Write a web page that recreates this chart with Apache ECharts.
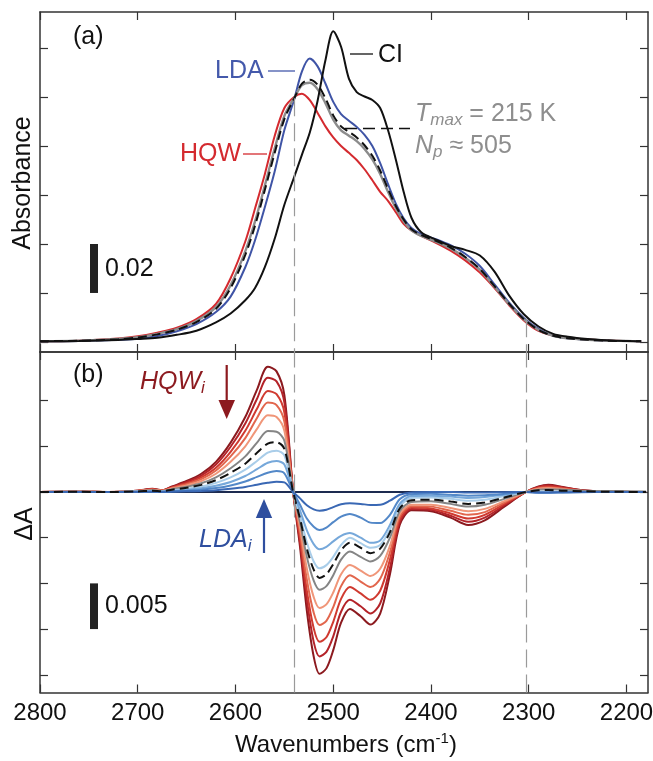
<!DOCTYPE html>
<html>
<head>
<meta charset="utf-8">
<script src="https://cdn.jsdelivr.net/npm/echarts@6/dist/echarts.min.js"></script>
<style>
  html, body { margin: 0; padding: 0; background: #fff; }
  #chart { width: 653px; height: 761px; }
</style>
</head>
<body>
<div id="chart"></div>
<script>
// ---------- panel (a): absorbance, values in units of 1e-3 ----------
const wnA = [2800, 2760, 2720, 2700, 2680, 2660, 2640, 2620, 2605, 2590, 2580, 2570, 2560, 2550, 2540,
  2532, 2524, 2516, 2508, 2500, 2492, 2484, 2476, 2468, 2460, 2452, 2444, 2436, 2428, 2420,
  2410, 2395, 2380, 2365, 2350, 2335, 2320, 2305, 2290, 2275, 2260, 2240, 2220, 2200, 2185];
const absCI = [0.3, 0.4, 0.8, 1.2, 1.7, 2.9, 4.6, 8.0, 11.6, 17.0, 22.0, 30.5, 42.0, 56.0, 67.3,
  76.5, 85.5, 98.5, 115.0, 126.8, 120.5, 107.5, 102.0, 100.2, 98.8, 95.5, 86.5, 74.5, 61.3, 50.7,
  44.8, 41.8, 39.2, 37.6, 35.3, 28.7, 18.9, 11.3, 6.3, 3.3, 2.1, 1.2, 0.7, 0.4, 0.3];
const absLDA = [0.3, 0.4, 0.9, 1.3, 2.4, 4.4, 7.3, 12.2, 18.5, 30.5, 41.5, 55.0, 69.5, 86.5, 99.0,
  110.5, 115.7, 112.5, 105.5, 98.0, 93.0, 90.3, 87.8, 84.5, 80.0, 73.0, 64.5, 56.5, 50.5, 46.5,
  44.0, 42.0, 39.5, 36.0, 31.0, 23.5, 16.0, 9.8, 5.3, 2.5, 1.5, 0.9, 0.5, 0.4, 0.3];
const absHQW = [0.3, 0.5, 1.4, 2.3, 3.8, 5.8, 9.3, 15.5, 26.0, 41.0, 54.5, 68.5, 84.0, 95.5, 100.0,
  101.3, 98.7, 93.5, 88.0, 83.5, 80.0, 77.2, 74.3, 70.5, 66.0, 61.3, 57.6, 53.0, 48.2, 45.5,
  43.3, 40.5, 37.3, 33.3, 28.3, 22.0, 15.0, 8.8, 4.5, 2.6, 1.6, 1.0, 0.6, 0.4, 0.3];
const absTmaxGray = [0.3, 0.5, 1.2, 1.9, 3.3, 5.2, 8.5, 14.2, 23.2, 37.0, 49.2, 63.8, 78.8, 92.3, 99.6,
  104.8, 105.8, 103.2, 97.5, 90.8, 86.4, 84.2, 82.0, 78.8, 74.5, 68.6, 61.3, 54.6, 49.4, 45.6,
  43.3, 41.0, 38.2, 34.4, 29.5, 22.5, 15.4, 9.2, 4.9, 2.5, 1.5, 0.9, 0.5, 0.4, 0.3];
const absTmax = [0.3, 0.5, 1.1, 1.8, 3.1, 5.0, 8.1, 13.5, 22.0, 35.5, 47.5, 62.0, 77.0, 91.0, 99.4,
  105.5, 107.0, 105.0, 99.5, 92.5, 88.0, 85.8, 83.5, 80.3, 76.0, 70.0, 62.5, 55.5, 50.0, 46.0,
  43.6, 41.3, 38.5, 34.7, 29.8, 22.8, 15.6, 9.3, 4.9, 2.5, 1.5, 0.9, 0.5, 0.4, 0.3];

// ---------- panel (b): difference spectra, values in units of 1e-3 ----------
const wnB = [2800, 2760, 2730, 2700, 2685, 2675, 2665, 2650, 2635, 2620, 2605, 2590, 2578, 2567, 2558,
  2550, 2541, 2534, 2527, 2520, 2514, 2507, 2500, 2492, 2483, 2472, 2462, 2452, 2442, 2432,
  2420, 2400, 2380, 2362, 2345, 2325, 2303, 2290, 2280, 2265, 2245, 2220, 2180];
const dHQW5 = [0, 0.05, 0, 0.15, 0.35, 0.2, 0.6, 1.2, 2.0, 3.3, 5.4, 8.2, 11.2, 13.7, 13.2,
  10.6, 0, -6.0, -13.0, -18.0, -19.9, -19.3, -17.3, -14.3, -12.8, -13.6, -14.5, -13.3, -9.0, -3.6,
  -2.0, -2.1, -2.8, -3.6, -3.1, -1.6, 0, 0.6, 0.8, 0.55, 0.2, 0.05, 0];
const dHQW4 = [0, 0.05, 0, 0.14, 0.32, 0.18, 0.55, 1.1, 1.8, 3.0, 4.95, 7.5, 10.2, 12.5, 12.1,
  9.8, 0, -5.5, -11.8, -16.4, -18.0, -17.5, -15.8, -13.1, -11.8, -12.5, -13.3, -12.2, -8.3, -3.3,
  -1.85, -1.95, -2.6, -3.25, -2.8, -1.45, 0, 0.55, 0.7, 0.5, 0.18, 0.05, 0];
const dHQW3 = [0, 0.05, 0, 0.13, 0.3, 0.16, 0.5, 0.95, 1.6, 2.65, 4.4, 6.7, 9.1, 11.05, 10.7,
  8.7, 0, -5.0, -10.8, -14.9, -16.4, -15.9, -14.2, -11.7, -10.4, -11.1, -11.8, -10.8, -7.4, -3.0,
  -1.7, -1.8, -2.35, -2.9, -2.5, -1.3, 0, 0.5, 0.6, 0.42, 0.15, 0.04, 0];
const dHQW2 = [0, 0.04, 0, 0.12, 0.27, 0.15, 0.45, 0.85, 1.4, 2.35, 3.9, 5.9, 8.1, 9.8, 9.5,
  7.7, 0, -4.4, -9.6, -13.2, -14.55, -14.1, -12.6, -10.3, -9.1, -9.8, -10.4, -9.5, -6.6, -2.7,
  -1.55, -1.6, -2.05, -2.5, -2.2, -1.15, 0, 0.42, 0.5, 0.35, 0.12, 0.03, 0];
const dHQW1 = [0, 0.03, 0, 0.1, 0.23, 0.13, 0.38, 0.72, 1.2, 2.0, 3.3, 5.0, 6.9, 8.4, 8.2,
  6.7, 0, -3.9, -8.4, -11.5, -12.7, -12.3, -11.0, -9.0, -8.0, -8.6, -9.2, -8.4, -5.9, -2.4,
  -1.4, -1.4, -1.75, -2.1, -1.85, -1.0, 0, 0.35, 0.45, 0.3, 0.1, 0.03, 0];
const dGray = [0, 0.03, 0, 0.08, 0.18, 0.1, 0.3, 0.58, 0.95, 1.6, 2.6, 3.9, 5.4, 6.67, 6.6,
  5.6, 0, -3.3, -7.1, -9.7, -10.7, -10.3, -9.1, -7.4, -6.5, -7.1, -7.6, -7.0, -5.0, -2.1,
  -1.1, -1.0, -1.3, -1.6, -1.4, -0.75, 0, 0.25, 0.3, 0.25, 0.15, 0.1, 0.05];
const dTmax = [0, 0.02, 0, 0.06, 0.14, 0.08, 0.25, 0.47, 0.78, 1.3, 2.1, 3.1, 4.3, 5.3, 5.44,
  4.7, 0, -2.9, -6.2, -8.5, -9.4, -9.0, -7.9, -6.4, -5.55, -6.1, -6.7, -6.2, -4.4, -1.8,
  -0.9, -0.85, -1.05, -1.3, -1.15, -0.6, 0, 0.18, 0.22, 0.15, 0.08, 0.03, 0];
const dLDA4 = [0, 0.02, 0, 0.05, 0.1, 0.05, 0.18, 0.36, 0.6, 1.0, 1.6, 2.45, 3.4, 4.3, 4.52,
  4.0, 0, -2.6, -5.5, -7.6, -8.35, -8.0, -7.1, -5.8, -5.0, -5.6, -6.1, -5.8, -4.1, -1.6,
  -0.65, -0.6, -0.75, -0.95, -0.85, -0.45, 0, 0.05, 0.05, 0.03, 0, 0, 0];
const dLDA3 = [0, 0.01, 0, 0.03, 0.07, 0.03, 0.12, 0.24, 0.4, 0.68, 1.1, 1.75, 2.5, 3.2, 3.39,
  3.0, 0, -2.0, -4.2, -5.7, -6.27, -6.0, -5.4, -4.8, -4.5, -5.0, -5.55, -5.3, -3.6, -1.3,
  -0.45, -0.4, -0.5, -0.65, -0.55, -0.3, 0, -0.05, -0.05, -0.03, 0, 0, 0];
const dLDA2 = [0, 0.01, 0, 0.02, 0.04, 0.02, 0.07, 0.15, 0.25, 0.43, 0.72, 1.15, 1.65, 2.1, 2.3,
  2.05, 0, -1.4, -2.9, -3.8, -4.16, -3.9, -3.3, -2.7, -2.4, -2.8, -3.35, -3.4, -2.5, -0.8,
  -0.25, -0.2, -0.3, -0.4, -0.35, -0.2, 0, -0.08, -0.08, -0.05, -0.02, 0, 0];
const dLDA1 = [0, 0, 0, 0.01, 0.02, 0.01, 0.03, 0.07, 0.12, 0.2, 0.35, 0.55, 0.8, 1.0, 1.13,
  1.05, 0, -0.7, -1.45, -1.9, -2.04, -1.95, -1.65, -1.35, -1.24, -1.3, -1.42, -1.4, -0.95, -0.3,
  -0.05, 0, 0, -0.05, -0.05, -0.02, 0, -0.05, -0.05, -0.03, 0, 0, 0];
const zeroWn = [2800, 2180];
const zeroLine = [0, 0];

// isosbestic points (dashed verticals), and where they meet the curves in (a)
const isoWn = [2540, 2303];
const isoTopA = [99.5, 9.3];

// tick marks
const wnTicks = [2200, 2300, 2400, 2500, 2600, 2700, 2800];
const ticksA = [0, 20, 40, 60, 80, 100, 120];
const ticksB = [-20, -15, -10, -5, 0, 5, 10];
const scaleBarA = [20, 40];   // 0.02
const scaleBarB = [-15, -10]; // 0.005

const FONT = '"Liberation Sans", Arial, Helvetica, sans-serif';
const FRAME = '#333';
const GRAY_DASH = '#9a9a9a';

function pair(w, v) { return w.map((x, i) => [x, v[i]]); }

function xAx(grid, pos, labels) {
  return {
    type: 'value', gridIndex: grid, position: pos, min: 2178, max: 2800, inverse: true,
    axisLine: { show: true, onZero: false, lineStyle: { color: FRAME, width: 1.5 } },
    axisTick: { show: true, inside: true, length: 8, customValues: wnTicks, lineStyle: { color: FRAME, width: 1.2 } },
    axisLabel: { show: labels, customValues: wnTicks, formatter: v => String(v),
      fontFamily: FONT, fontSize: 24, color: '#111', margin: 9 },
    splitLine: { show: false }
  };
}
function yAx(grid, pos, min, max, ticks) {
  return {
    type: 'value', gridIndex: grid, position: pos, min: min, max: max,
    axisLine: { show: true, onZero: false, lineStyle: { color: FRAME, width: 1.5 } },
    axisTick: { show: true, inside: true, length: 8, customValues: ticks, lineStyle: { color: FRAME, width: 1.2 } },
    axisLabel: { show: false },
    splitLine: { show: false }
  };
}

const seriesA = [
  { data: absHQW, color: '#d42a2f' },
  { data: absLDA, color: '#3f54a6' },
  { data: absTmaxGray, color: '#8c8c8c', width: 2.4 },
  { data: absTmax, color: '#111', dash: [9, 5] },
  { data: absCI, color: '#111' }
].map(s => ({
  type: 'line', xAxisIndex: 0, yAxisIndex: 0, data: pair(wnA, s.data),
  smooth: 0.3, showSymbol: false, silent: true,
  lineStyle: { color: s.color, width: s.width || 2, type: s.dash || 'solid' }
}));

seriesA.push({
  type: 'line', xAxisIndex: 0, yAxisIndex: 0, data: [], silent: true,
  markLine: {
    silent: true, symbol: 'none', label: { show: false },
    lineStyle: { color: GRAY_DASH, width: 1.2, type: [18, 7] },
    data: isoWn.map((w, i) => [{ coord: [w, isoTopA[i]] }, { coord: [w, -4.1] }])
  }
});

const curvesB = [
  { data: dHQW5, color: '#8c1a1f' },
  { data: dHQW4, color: '#b42329' },
  { data: dHQW3, color: '#d03a30' },
  { data: dHQW2, color: '#e2664d' },
  { data: dHQW1, color: '#f09679' },
  { data: dGray, color: '#858585' },
  { data: dLDA4, color: '#a9cde9' },
  { data: dLDA3, color: '#76a8da' },
  { data: dLDA2, color: '#5388c8' },
  { data: dLDA1, color: '#3a68b4' },
  { data: dTmax, color: '#111', dash: [9, 5] }
];
const seriesB = curvesB.map(s => ({
  type: 'line', xAxisIndex: 2, yAxisIndex: 2, data: pair(wnB, s.data),
  smooth: 0.3, showSymbol: false, silent: true,
  lineStyle: { color: s.color, width: 2, type: s.dash || 'solid' }
}));
seriesB.unshift({
  type: 'line', xAxisIndex: 2, yAxisIndex: 2, data: pair(zeroWn, zeroLine),
  showSymbol: false, silent: true, z: 3,
  lineStyle: { color: '#1d2b50', width: 2 },
  markLine: {
    silent: true, symbol: 'none', label: { show: false },
    lineStyle: { color: GRAY_DASH, width: 1.2, type: [18, 7] },
    data: isoWn.map(w => ({ xAxis: w }))
  }
});

const chart = echarts.init(document.getElementById('chart'));
chart.setOption({
  animation: false,
  backgroundColor: '#fff',
  grid: [
    { left: 40, right: 5, top: 12, height: 340, containLabel: false, outerBoundsMode: 'none' },
    { left: 40, right: 5, top: 352, height: 340.5, containLabel: false, outerBoundsMode: 'none' }
  ],
  xAxis: [xAx(0, 'bottom', false), xAx(0, 'top', false), xAx(1, 'bottom', true), xAx(1, 'top', false)],
  yAxis: [yAx(0, 'left', -4.1, 134.7, ticksA), yAx(0, 'right', -4.1, 134.7, ticksA),
          yAx(1, 'left', -21.94, 15.32, ticksB), yAx(1, 'right', -21.94, 15.32, ticksB)],
  series: seriesA.concat(seriesB)
});

// annotations
const yA = v => chart.convertToPixel({ yAxisIndex: 0 }, v);
const yB = v => chart.convertToPixel({ yAxisIndex: 2 }, v);
const txt = (x, y, text, color, extra, rot) => ({
  type: 'text', x: x, y: y, rotation: rot || 0, silent: true,
  style: Object.assign({ text: text, fill: color, font: '25px ' + FONT, align: 'left', verticalAlign: 'middle' }, extra || {})
});
const seg = (x1, y1, x2, y2, color, w, dash) => ({
  type: 'line', silent: true, shape: { x1: x1, y1: y1, x2: x2, y2: y2 },
  style: { stroke: color, lineWidth: w || 1.3, lineDash: dash || null }
});
const richSub = (color, italicMain) => ({
  m: { fontSize: 25, fontFamily: FONT, fontStyle: italicMain ? 'italic' : 'normal', fill: color, lineHeight: 30 },
  s: { fontSize: 17, fontFamily: FONT, fontStyle: 'italic', fill: color, lineHeight: 17, verticalAlign: 'bottom' },
  n: { fontSize: 25, fontFamily: FONT, fill: color, lineHeight: 30 }
});

const DARKRED = '#8c1a1f';
const DARKBLUE = '#2f4f9f';
const ANN_GRAY = '#8e8e8e';

chart.setOption({
  graphic: [
    // axis titles
    txt(23, 183, 'Absorbance', '#111', { align: 'center' }, Math.PI / 2),
    txt(25, 524, 'ΔA', '#111', { align: 'center' }, Math.PI / 2),
    { type: 'text', x: 346, y: 745, silent: true,
      style: { text: '{n|Wavenumbers (cm}{s|-1}{n|)}', align: 'center', verticalAlign: 'middle',
        rich: {
          n: { fontSize: 24, fontFamily: FONT, fill: '#111', lineHeight: 28 },
          s: { fontSize: 15, fontFamily: FONT, fill: '#111', lineHeight: 15, verticalAlign: 'top' }
        } } },
    // panel labels
    txt(73, 37, '(a)', '#111'),
    txt(73, 375, '(b)', '#111'),
    // curve labels in (a)
    txt(215, 71, 'LDA', '#4459ab'),
    seg(268, 71, 295, 71, '#4459ab'),
    txt(180, 154, 'HQW', '#d42a2f'),
    seg(243, 154, 267, 154, '#d42a2f'),
    seg(350, 54, 373, 54, '#111'),
    txt(378, 55, 'CI', '#111'),
    seg(345, 128.5, 410, 128.5, '#111', 1.6, [12, 6]),
    { type: 'text', x: 415, y: 114, silent: true,
      style: { text: '{m|T}{s|max}{n| = 215 K}', align: 'left', verticalAlign: 'middle', rich: richSub(ANN_GRAY, true) } },
    { type: 'text', x: 415, y: 146, silent: true,
      style: { text: '{m|N}{s|p}{n| ≈ 505}', align: 'left', verticalAlign: 'middle', rich: richSub(ANN_GRAY, true) } },
    // scale bars
    { type: 'rect', silent: true, shape: { x: 90, y: yA(scaleBarA[1]), width: 8, height: yA(scaleBarA[0]) - yA(scaleBarA[1]) },
      style: { fill: '#222' } },
    txt(105, 269, '0.02', '#111'),
    { type: 'rect', silent: true, shape: { x: 90, y: yB(scaleBarB[1]), width: 8, height: yB(scaleBarB[0]) - yB(scaleBarB[1]) },
      style: { fill: '#222' } },
    txt(105, 606, '0.005', '#111'),
    // arrows in (b)
    { type: 'text', x: 140, y: 382, silent: true,
      style: { text: '{m|HQW}{s|i}', align: 'left', verticalAlign: 'middle', rich: richSub(DARKRED, true) } },
    seg(226.7, 365, 226.7, 405, DARKRED, 2.2),
    { type: 'polygon', silent: true, shape: { points: [[218.5, 400], [235, 400], [226.7, 419]] }, style: { fill: DARKRED } },
    { type: 'text', x: 199, y: 540, silent: true,
      style: { text: '{m|LDA}{s|i}', align: 'left', verticalAlign: 'middle', rich: richSub(DARKBLUE, true) } },
    seg(264, 553, 264, 513, DARKBLUE, 2.2),
    { type: 'polygon', silent: true, shape: { points: [[255.8, 518], [272.2, 518], [264, 499]] }, style: { fill: DARKBLUE } }
  ]
});
</script>
</body>
</html>
